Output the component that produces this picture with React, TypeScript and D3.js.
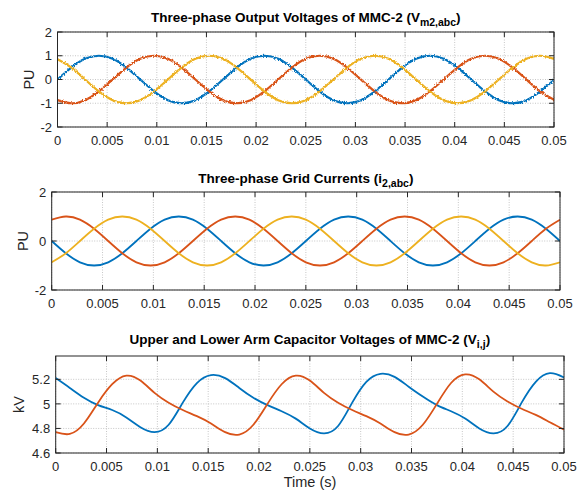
import React from "react";
import * as d3 from "d3";

// time samples (s)
const T = [0, 0.001389, 0.002778, 0.004167, 0.005556, 0.006944, 0.008333, 0.009722, 0.011111, 0.0125, 0.013889, 0.015278,
  0.016667, 0.018056, 0.019444, 0.020833, 0.022222, 0.023611, 0.025, 0.026389, 0.027778, 0.029167, 0.030556, 0.031944,
  0.033333, 0.034722, 0.036111, 0.0375, 0.038889, 0.040278, 0.041667, 0.043056, 0.044444, 0.045833, 0.047222, 0.048611, 0.05];

// Panel 1: output voltages (PU)
const VM_A = [0, 0.5, 0.87, 1, 0.87, 0.5, 0, -0.5, -0.87, -1, -0.87, -0.5,
  0, 0.5, 0.87, 1, 0.87, 0.5, 0, -0.5, -0.87, -1, -0.87, -0.5,
  0, 0.5, 0.87, 1, 0.87, 0.5, 0, -0.5, -0.87, -1, -0.87, -0.5, -0.02];
const VM_B = [-0.87, -1, -0.87, -0.5, 0, 0.5, 0.87, 1, 0.87, 0.5, 0, -0.5,
  -0.87, -1, -0.87, -0.5, 0, 0.5, 0.87, 1, 0.87, 0.5, 0, -0.5,
  -0.87, -1, -0.87, -0.5, 0, 0.5, 0.87, 1, 0.87, 0.5, 0, -0.5, -0.85];
const VM_C = [0.85, 0.5, 0, -0.5, -0.87, -1, -0.87, -0.5, 0, 0.5, 0.87, 1,
  0.87, 0.5, 0, -0.5, -0.87, -1, -0.87, -0.5, 0, 0.5, 0.87, 1,
  0.87, 0.5, 0, -0.5, -0.87, -1, -0.87, -0.5, 0, 0.5, 0.87, 1, 0.87];

// Panel 2: grid currents (PU)
const I_A = [0, -0.5, -0.87, -1, -0.87, -0.5, 0, 0.5, 0.87, 1, 0.87, 0.5,
  0, -0.5, -0.87, -1, -0.87, -0.5, 0, 0.5, 0.87, 1, 0.87, 0.5,
  0, -0.5, -0.87, -1, -0.87, -0.5, 0, 0.5, 0.87, 1, 0.87, 0.5, 0];
const I_B = [0.87, 1, 0.87, 0.5, 0, -0.5, -0.87, -1, -0.87, -0.5, 0, 0.5,
  0.87, 1, 0.87, 0.5, 0, -0.5, -0.87, -1, -0.87, -0.5, 0, 0.5,
  0.87, 1, 0.87, 0.5, 0, -0.5, -0.87, -1, -0.87, -0.5, 0, 0.5, 0.87];
const I_C = [-0.87, -0.5, 0, 0.5, 0.87, 1, 0.87, 0.5, 0, -0.5, -0.87, -1,
  -0.87, -0.5, 0, 0.5, 0.87, 1, 0.87, 0.5, 0, -0.5, -0.87, -1,
  -0.87, -0.5, 0, 0.5, 0.87, 1, 0.87, 0.5, 0, -0.5, -0.87, -1, -0.87];

// Panel 3: arm capacitor voltages (kV)
const VC_UP = [5.21, 5.13, 5.05, 4.99, 4.95, 4.89, 4.81, 4.77, 4.83, 5.01, 5.17, 5.235,
  5.21, 5.13, 5.05, 4.99, 4.94, 4.88, 4.80, 4.76, 4.82, 5.01, 5.18, 5.245,
  5.22, 5.14, 5.06, 4.99, 4.94, 4.88, 4.80, 4.76, 4.82, 5.01, 5.18, 5.25, 5.215];
const VC_LO = [4.77, 4.755, 4.84, 5.01, 5.16, 5.23, 5.19, 5.09, 5.01, 4.95, 4.90, 4.84,
  4.77, 4.75, 4.83, 5.0, 5.16, 5.23, 5.19, 5.09, 5.01, 4.95, 4.90, 4.84,
  4.77, 4.75, 4.83, 5.0, 5.17, 5.24, 5.20, 5.10, 5.02, 4.96, 4.91, 4.85, 4.79];

const X_TICKS = [0, 0.005, 0.01, 0.015, 0.02, 0.025, 0.03, 0.035, 0.04, 0.045, 0.05];
const PU_TICKS_1 = [-2, -1, 0, 1, 2];
const PU_TICKS_2 = [-2, 0, 2];
const KV_TICKS = [4.6, 4.8, 5, 5.2];

const C_BLUE = "#0072BD";
const C_ORANGE = "#D95319";
const C_YELLOW = "#EDB120";
const FONT = "'Liberation Sans', Arial, Helvetica, sans-serif";
const AX = "#262626";

type Box = { l: number; t: number; r: number; b: number };

function Panel(props: {
  id: string;
  box: Box;
  yDomain: [number, number];
  yTicks: number[];
  series: { y: number[]; color: string }[];
  title: React.ReactNode;
  titleY: number;
  ylabel: string;
  ylabelX: number;
  lineWidth: number;
  noisy?: boolean;
}) {
  const { box, yDomain, yTicks, series } = props;
  const x = d3.scaleLinear().domain([0, 0.05]).range([box.l, box.r]);
  const y = d3.scaleLinear().domain(yDomain).range([box.b, box.t]);
  const line = d3
    .line<number>()
    .x((_, i) => x(T[i]))
    .y((v) => y(v))
    .curve(d3.curveNatural);
  const fmt = (v: number) => String(+v.toFixed(3));
  const tl = 5;
  return (
    <g>
      <defs>
        <clipPath id={"clip-" + props.id}>
          <rect x={box.l} y={box.t} width={box.r - box.l} height={box.b - box.t} />
        </clipPath>
      </defs>
      {/* grid */}
      <g stroke="#9a9a9a" strokeWidth={0.8} strokeDasharray="1 1.5" opacity={0.7}>
        {X_TICKS.map((v) => (
          <line key={"gx" + v} x1={x(v)} x2={x(v)} y1={box.t} y2={box.b} />
        ))}
        {yTicks.map((v) => (
          <line key={"gy" + v} x1={box.l} x2={box.r} y1={y(v)} y2={y(v)} />
        ))}
      </g>
      {/* series */}
      <g clipPath={`url(#clip-${props.id})`}>
        <g filter={props.noisy ? "url(#jitter)" : undefined}>
          {series.map((s, k) => (
            <path key={k} d={line(s.y) || ""} fill="none" stroke={s.color} strokeWidth={props.lineWidth} strokeLinejoin="round" />
          ))}
        </g>
      </g>
      {/* box and ticks */}
      <rect x={box.l} y={box.t} width={box.r - box.l} height={box.b - box.t} fill="none" stroke={AX} strokeWidth={1} />
      <g stroke={AX} strokeWidth={1}>
        {X_TICKS.map((v) => (
          <g key={"tx" + v}>
            <line x1={x(v)} x2={x(v)} y1={box.b} y2={box.b - tl} />
            <line x1={x(v)} x2={x(v)} y1={box.t} y2={box.t + tl} />
          </g>
        ))}
        {yTicks.map((v) => (
          <g key={"ty" + v}>
            <line x1={box.l} x2={box.l + tl} y1={y(v)} y2={y(v)} />
            <line x1={box.r} x2={box.r - tl} y1={y(v)} y2={y(v)} />
          </g>
        ))}
      </g>
      <g fontFamily={FONT} fontSize={13} fill={AX}>
        {X_TICKS.map((v) => (
          <text key={"lx" + v} x={x(v)} y={box.b + 18} textAnchor="middle">
            {fmt(v)}
          </text>
        ))}
        {yTicks.map((v) => (
          <text key={"ly" + v} x={box.l - 5.5} y={y(v)} dy="0.36em" textAnchor="end">
            {fmt(v)}
          </text>
        ))}
      </g>
      <text
        transform={`translate(${props.ylabelX},${(box.t + box.b) / 2}) rotate(-90)`}
        textAnchor="middle"
        dy="0.35em"
        fontFamily={FONT}
        fontSize={14.5}
        fill={AX}
      >
        {props.ylabel}
      </text>
      <text x={(box.l + box.r) / 2} y={props.titleY} textAnchor="middle" fontFamily={FONT} fontSize={13.5} fontWeight="bold" fill="#000">
        {props.title}
      </text>
    </g>
  );
}

export default function App() {
  return (
    <svg width={584} height={497} style={{ position: "absolute", left: 0, top: 0, background: "#fff" }}>
      <defs>
        <filter id="jitter" x="-5%" y="-20%" width="110%" height="140%">
          <feTurbulence type="fractalNoise" baseFrequency="0.9 0.6" numOctaves={1} seed={4} result="n" />
          <feDisplacementMap in="SourceGraphic" in2="n" scale={3.5} xChannelSelector="R" yChannelSelector="G" />
        </filter>
      </defs>
      <rect width={584} height={497} fill="#fff" />
      <Panel
        id="p1"
        box={{ l: 57.5, t: 32, r: 554, b: 127 }}
        yDomain={[-2, 2]}
        yTicks={PU_TICKS_1}
        series={[
          { y: VM_A, color: C_BLUE },
          { y: VM_B, color: C_ORANGE },
          { y: VM_C, color: C_YELLOW },
        ]}
        title={
          <>
            Three-phase Output Voltages of MMC-2 (V
            <tspan fontSize={10.5} dy={4}>m2,abc</tspan>
            <tspan dy={-4}>)</tspan>
          </>
        }
        titleY={22}
        ylabel="PU"
        ylabelX={29}
        lineWidth={2.2}
        noisy
      />
      <Panel
        id="p2"
        box={{ l: 51.7, t: 192, r: 560, b: 290 }}
        yDomain={[-2, 2]}
        yTicks={PU_TICKS_2}
        series={[
          { y: I_A, color: C_BLUE },
          { y: I_B, color: C_ORANGE },
          { y: I_C, color: C_YELLOW },
        ]}
        title={
          <>
            Three-phase Grid Currents (i
            <tspan fontSize={10.5} dy={4}>2,abc</tspan>
            <tspan dy={-4}>)</tspan>
          </>
        }
        titleY={183}
        ylabel="PU"
        ylabelX={23}
        lineWidth={1.8}
      />
      <Panel
        id="p3"
        box={{ l: 55.7, t: 356, r: 564, b: 453 }}
        yDomain={[4.6, 5.39]}
        yTicks={KV_TICKS}
        series={[
          { y: VC_UP, color: C_BLUE },
          { y: VC_LO, color: C_ORANGE },
        ]}
        title={
          <>
            Upper and Lower Arm Capacitor Voltages of MMC-2 (V
            <tspan fontSize={10.5} dy={4}>i,j</tspan>
            <tspan dy={-4}>)</tspan>
          </>
        }
        titleY={344}
        ylabel="kV"
        ylabelX={19}
        lineWidth={1.8}
      />
      <text x={310} y={487} textAnchor="middle" fontFamily={FONT} fontSize={14.5} fill={AX}>
        Time (s)
      </text>
    </svg>
  );
}
